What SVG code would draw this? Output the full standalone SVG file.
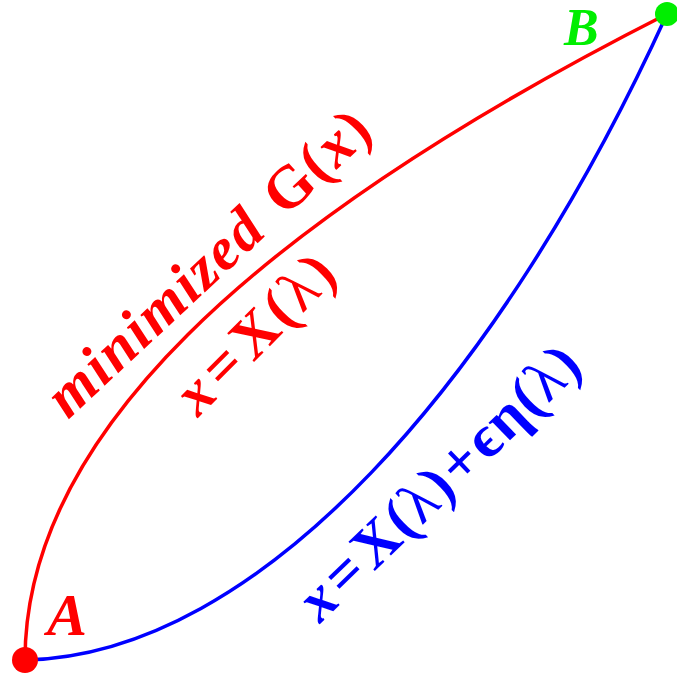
<svg xmlns="http://www.w3.org/2000/svg" width="677" height="678" viewBox="0 0 677 678">
<style>
.t{font-family:"Liberation Serif","Times New Roman",serif;font-weight:bold;}
.i{font-style:italic;}
.r{fill:#ff0000;}
.b{fill:#0000ff;}
.g{fill:#00ee00;}
.l{font-weight:normal;}
.c{fill:none;stroke-width:3.5;}
</style>
<rect width="677" height="678" fill="#ffffff"/>
<g id="connectors">
<path class="c" stroke="#ff0000" d="M25,660 C25,440 245,228 667,14"/>
<path class="c" stroke="#0000ff" d="M25,660 C260,655 500,380 667,14"/>
</g>
<g id="nodeA">
<circle cx="25" cy="660" r="13" fill="#ff0000"/>
<text class="t i r" x="47" y="635" font-size="60">A</text>
</g>
<g id="nodeB">
<circle cx="667" cy="14" r="12" fill="#00ee00"/>
<text class="t i g" x="564" y="45" font-size="52">B</text>
</g>
<g id="label-minimized">
<text class="t r" font-size="60" letter-spacing="2" transform="translate(68,420) rotate(-43)"><tspan class="i">minimized</tspan><tspan dx="22">G(</tspan><tspan class="i">x</tspan><tspan>)</tspan></text>
</g>
<g id="label-red">
<text class="t r" font-size="60" letter-spacing="3" transform="translate(198,418) rotate(-45)"><tspan class="i">x</tspan><tspan dx="4">=</tspan><tspan dx="4">X(</tspan><tspan class="l">λ</tspan><tspan>)</tspan></text>
</g>
<g id="label-blue">
<text class="t b" font-size="60" letter-spacing="1.5" transform="translate(320,624) rotate(-44)"><tspan class="i">x</tspan><tspan dx="4">=</tspan><tspan dx="4">X(</tspan><tspan class="l">λ</tspan><tspan>)</tspan><tspan dx="2">+</tspan><tspan dx="2">ϵη(</tspan><tspan class="l">λ</tspan><tspan>)</tspan></text>
</g>
</svg>
